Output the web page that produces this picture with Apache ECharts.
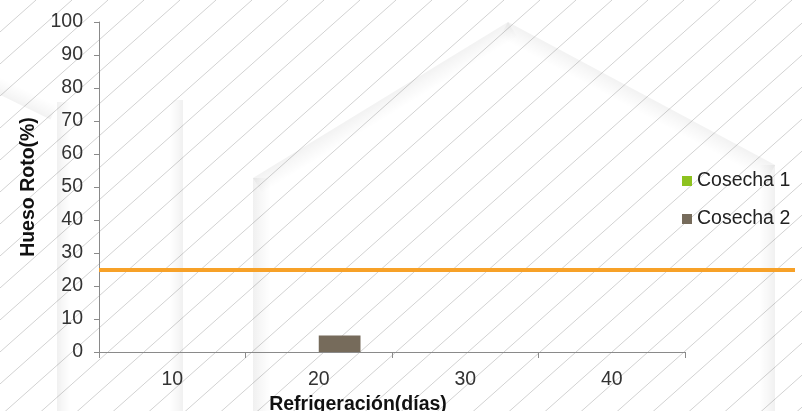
<!DOCTYPE html>
<html><head><meta charset="utf-8">
<script src="https://cdn.jsdelivr.net/npm/echarts@6/dist/echarts.min.js"></script>
<style>html,body{margin:0;padding:0;background:#fff}#c{width:802px;height:411px}</style>
</head><body><div id="c"></div>
<script>
const categories = ['10', '20', '30', '40'];
const cosecha1 = [0, 0, 0, 0];
const cosecha2 = [0, 5, 0, 0];
const referenceLine = [25];
const seriesNames = ['Cosecha 1', 'Cosecha 2'];

function stripeCanvas() {
  const W = 36, H = 32;
  const c = document.createElement('canvas');
  c.width = W; c.height = H;
  const g = c.getContext('2d');
  g.strokeStyle = '#d2d2d2';
  g.lineWidth = 1;
  g.beginPath();
  g.moveTo(-W, 2 * H); g.lineTo(2 * W, -H);
  g.stroke();
  return c;
}
function grad(x, y, x2, y2, a) {
  return { type: 'linear', x: x, y: y, x2: x2, y2: y2,
    colorStops: [{ offset: 0, color: 'rgba(0,0,0,' + a + ')' }, { offset: 0.35, color: 'rgba(0,0,0,' + (a * 0.6) + ')' }, { offset: 1, color: 'rgba(0,0,0,0)' }] };
}
const FONT = '"Liberation Sans", Arial, sans-serif';
const chart = echarts.init(document.getElementById('c'), null, { renderer: 'canvas' });
chart.setOption({
  animation: false,
  backgroundColor: '#fff',
  graphic: [
    { type: 'rect', z: -10, silent: true, shape: { x: 0, y: 0, width: 802, height: 411 },
      style: { fill: { image: stripeCanvas(), repeat: 'repeat' } } },
    { type: 'rect', z: -9, silent: true, shape: { x: 57, y: 102, width: 14, height: 320 }, style: { fill: grad(0, 0, 1, 0, 0.06) } },
    { type: 'rect', z: -9, silent: true, shape: { x: 169, y: 100, width: 14, height: 320 }, style: { fill: grad(1, 0, 0, 0, 0.06) } },
    { type: 'rect', z: -9, silent: true, shape: { x: 253, y: 178, width: 18, height: 240 }, style: { fill: grad(0, 0, 1, 0, 0.06) } },
    { type: 'rect', z: -9, silent: true, shape: { x: 759, y: 165, width: 16, height: 250 }, style: { fill: grad(1, 0, 0, 0, 0.06) } },
    { type: 'rect', z: -9, silent: true, x: 253, y: 178, rotation: Math.atan2(156, 255),
      shape: { x: 0, y: 0, width: 299, height: 18 }, style: { fill: grad(0, 0, 0, 1, 0.05) } },
    { type: 'rect', z: -9, silent: true, x: 508, y: 22, rotation: -Math.atan2(143, 267),
      shape: { x: 0, y: 0, width: 303, height: 18 }, style: { fill: grad(0, 0, 0, 1, 0.05) } },
    { type: 'rect', z: -9, silent: true, x: 0, y: 77, rotation: -Math.atan2(28, 57),
      shape: { x: 0, y: 0, width: 64, height: 16 }, style: { fill: grad(0, 1, 0, 0, 0.05) } }
  ],
  legend: {
    data: seriesNames,
    orient: 'vertical',
    left: 677, top: 166,
    itemWidth: 10, itemHeight: 10, itemGap: 18,
    icon: 'rect',
    textStyle: { fontFamily: FONT, fontSize: 19.5, color: '#222' },
    selectedMode: false
  },
  grid: [
    { left: 99, right: 117, top: 22, bottom: 59, containLabel: false, outerBoundsMode: 'none' },
    { left: 99, right: 7, top: 22, bottom: 59, containLabel: false, outerBoundsMode: 'none' }
  ],
  xAxis: [
    { type: 'category', data: categories, gridIndex: 0,
      axisLine: { lineStyle: { color: '#8a8a8a', width: 1 } },
      axisTick: { show: true, length: 6, lineStyle: { color: '#8a8a8a' } },
      axisLabel: { fontFamily: FONT, fontSize: 19.5, color: '#333', margin: 18 },
      name: 'Refrigeración(días)', nameLocation: 'middle', nameGap: 33,
      nameTextStyle: { fontFamily: FONT, fontSize: 19.5, fontWeight: 'bold', color: '#111', padding: [0, 68, 0, 0] } },
    { type: 'value', gridIndex: 1, min: 0, max: 1, show: false }
  ],
  yAxis: [
    { type: 'value', gridIndex: 0, min: 0, max: 100, interval: 10,
      axisLine: { show: true, lineStyle: { color: '#8a8a8a', width: 1 } },
      axisTick: { show: true, length: 5, lineStyle: { color: '#8a8a8a' } },
      axisLabel: { fontFamily: FONT, fontSize: 19.5, color: '#333', margin: 16 },
      splitLine: { show: false },
      name: 'Hueso Roto(%)', nameLocation: 'middle', nameGap: 60,
      nameTextStyle: { fontFamily: FONT, fontSize: 19.5, fontWeight: 'bold', color: '#111' } },
    { type: 'value', gridIndex: 1, min: 0, max: 100, show: false }
  ],
  series: [
    { name: seriesNames[0], type: 'bar', data: cosecha1, xAxisIndex: 0, yAxisIndex: 0,
      itemStyle: { color: '#8DC21F' }, barGap: '0%', barCategoryGap: '43%' },
    { name: seriesNames[1], type: 'bar', data: cosecha2, xAxisIndex: 0, yAxisIndex: 0,
      itemStyle: { color: '#766B5B' }, barGap: '0%', barCategoryGap: '43%' },
    { name: 'ref', type: 'line', data: [], xAxisIndex: 1, yAxisIndex: 1,
      markLine: { silent: true, symbol: ['none', 'none'], label: { show: false },
        lineStyle: { color: '#F7A128', width: 4, type: 'solid' },
        data: referenceLine.map(v => ({ yAxis: v })) } }
  ]
});
</script></body></html>
